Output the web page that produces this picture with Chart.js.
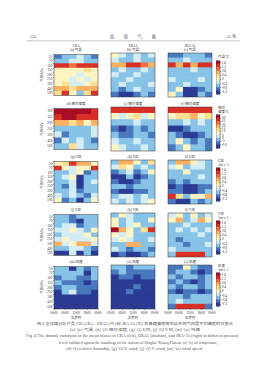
<!DOCTYPE html>
<html><head><meta charset="utf-8">
<script src="https://cdn.jsdelivr.net/npm/chart.js@4.4.1/dist/chart.umd.min.js"></script>
<style>
html,body{margin:0;padding:0;background:#fff;width:270px;height:380px;overflow:hidden;}
#page{position:relative;width:270px;height:380px;background:#fff;}
canvas{position:absolute;}
#txt{position:absolute;left:0;top:0;}
</style></head><body><div id="page"><svg id="txt" width="270" height="380" xmlns="http://www.w3.org/2000/svg"></svg></div>
<script>
// ---------- data ----------
const timeLabels = ["00:00","06:00","12:00","18:00","00:00"];
const tickHours = [0,6,12,18,24];
const timeBins = [0,4,8,12,16,20,24];
const windLevels = ["50","70","100","150","200","250","300","400","500"];
const rhLevels = ["100","150","200","250","300","400","500"];
const datasetNames = ["CRA","ERA5","JRA-55"];

const craTemp = [
[-0.92,-0.58,-0.55,-0.28,-0.62,-0.88],
[-0.55,-0.62,-0.30,-0.26,-0.58,-0.50],
[1.34,1.28,1.02,1.30,1.24,1.40],
[0.05,0.10,0.02,0.06,0.30,0.08],
[0.10,0.00,0.04,-0.20,0.06,0.12],
[0.04,0.12,-0.22,0.00,-0.25,0.06],
[0.08,0.36,-0.18,-0.20,0.04,0.32],
[0.70,0.66,0.40,0.62,0.72,0.60],
[0.40,1.32,0.05,-0.58,0.42,1.30]];
const era5Temp = [
[0.02,-0.30,-0.52,-0.25,-0.50,-0.30],
[-0.30,-0.55,-0.60,-0.28,-0.52,-0.56],
[0.72,0.60,1.30,1.36,1.00,0.76],
[-0.58,-0.30,-0.60,-0.55,-0.28,-0.62],
[-0.30,-0.56,-0.58,-0.30,-0.60,-0.55],
[-0.60,-0.58,-0.28,-0.62,-0.55,-0.58],
[-0.56,-0.26,-0.60,-0.58,-0.62,-0.30],
[-0.60,-0.90,-0.58,-0.30,-0.56,-0.60],
[-0.92,-1.25,-1.22,-0.88,-0.60,-0.90]];
const jraTemp = [
[-0.90,-0.86,-0.58,-0.60,-0.56,-0.92],
[-0.56,-0.60,-0.28,-0.58,-0.55,-0.60],
[1.32,0.70,1.28,0.68,1.30,1.34],
[-0.58,-0.60,-0.55,-0.30,-0.58,-0.62],
[-0.60,-0.56,-0.62,-0.58,-0.60,-0.55],
[-0.30,-0.58,-0.60,-0.56,-0.28,-0.60],
[-0.58,-0.62,-0.30,-0.60,-0.58,-0.56],
[-0.55,0.02,-1.24,-1.26,-0.90,-0.58],
[0.04,-0.60,-1.28,-1.22,-0.58,-0.88]];

const craRH = [
[32,33,31,32,30,28],
[27,31,32,28,26,27],
[17,16,12,16,8,17],
[-3,-2,-3,-2,-3,1],
[2,-7,-3,-2,-4,1],
[-7,2,-3,1,-3,-7],
[-3,-2,12,2,-3,-2]];
const era5RH = [
[27,28,27,26,28,27],
[7,3,6,11,2,8],
[-3,-2,-3,2,-2,-3],
[-7,-12,-8,-3,-6,-3],
[-3,-7,-8,-2,-3,-7],
[2,-3,-2,2,-3,-2],
[7,2,-3,-2,2,-3]];
const jraRH = [
[27,28,27,27,28,26],
[7,12,11,17,8,12],
[-3,-2,2,-3,2,-2],
[-12,-11,-7,-3,-2,-3],
[-3,-7,-12,-11,-7,-2],
[-2,7,-3,-7,-3,-8],
[-7,-3,7,-2,-3,-7]];

const craU = [
[0.00,0.36,1.30,0.70,0.68,0.02],
[1.30,0.04,-0.28,0.02,0.05,1.32],
[-0.58,-0.60,-0.30,0.02,-0.90,-0.56],
[-0.60,-0.28,0.04,-1.24,-0.58,-0.60],
[-0.56,-0.58,-0.30,-1.22,-0.60,-0.28],
[-0.60,-0.90,-0.26,-1.26,-0.56,-0.60],
[-0.58,-0.60,-0.30,-0.90,-0.58,-0.55],
[-0.28,-0.58,-0.30,-0.60,-0.88,-0.26],
[0.04,-0.90,-0.56,-1.24,-0.60,0.02]];
const era5U = [
[-0.58,0.70,0.72,0.02,-0.60,0.36],
[-0.28,0.38,0.04,-0.58,-0.30,-0.56],
[-0.90,-0.58,-0.30,-0.88,-0.60,0.04],
[-1.24,-1.22,-0.58,-1.26,-0.90,-0.60],
[-0.90,-1.24,-1.22,-0.88,-0.58,-0.56],
[-0.60,-0.56,-0.90,-0.58,-0.60,-0.58],
[-0.92,-1.24,-1.26,-0.90,-0.88,-0.60],
[-0.58,-0.30,-0.28,-0.60,-0.30,-0.56],
[-0.30,-0.58,-0.26,-0.60,-0.28,0.02]];
const jraU = [
[-0.58,0.70,0.72,0.02,-0.30,-0.60],
[-0.28,0.04,-0.58,-0.30,-0.28,-0.56],
[-0.60,-0.56,0.02,-0.58,-0.60,-0.58],
[-0.56,-0.60,-0.58,-0.62,-0.28,-0.60],
[-0.90,-0.58,-0.88,-0.60,-0.56,-0.58],
[-1.24,-0.90,-1.26,-1.22,-0.88,-0.92],
[-0.90,-0.88,-1.24,-1.26,-0.90,-0.58],
[1.30,0.38,-0.58,0.04,0.02,0.70],
[-0.90,-1.24,-1.22,-0.58,-0.88,-0.60]];

const craV = [
[-0.58,-0.60,-0.90,-0.56,-0.58,-0.60],
[-0.56,-0.58,-0.88,-1.24,-0.60,-0.58],
[-0.60,-0.30,-0.28,-0.90,-0.56,-0.58],
[-0.28,-0.30,0.02,-0.26,-0.58,0.04],
[-0.58,-0.28,-0.30,-0.26,0.02,-0.60],
[-0.30,0.04,-0.28,-0.30,-0.26,0.02],
[0.70,-0.28,0.04,0.68,0.72,-0.30],
[-0.58,-0.60,-0.30,-0.28,-0.56,-0.90],
[-1.24,-1.22,-0.30,-1.26,-0.58,-1.24]];
const era5V = [
[-0.58,0.02,-0.30,-0.56,-0.60,-0.58],
[0.04,-0.56,-0.28,-0.60,-0.58,0.02],
[0.02,-0.60,-0.30,0.04,-0.56,-0.58],
[1.62,0.70,0.02,-0.58,0.38,1.30],
[0.04,-0.28,0.02,-0.60,-0.56,-0.58],
[-0.30,0.04,-0.28,-0.58,-0.60,-0.26],
[-0.56,-0.58,0.70,0.68,-0.60,-0.58],
[-0.28,-0.60,-0.90,-0.58,-0.56,-0.88],
[-1.24,-0.90,-1.26,-1.22,-0.88,-0.60]];
const jraV = [
[-0.28,0.04,-0.58,0.02,-0.60,-0.30],
[0.02,0.70,-0.56,-0.28,0.68,0.04],
[-0.58,-0.60,-0.30,-0.56,-0.58,-0.60],
[-0.60,-0.28,-0.58,-0.30,-0.56,-0.26],
[-0.56,-0.58,-0.60,-0.58,-0.30,-0.56],
[-0.60,-0.90,-0.58,-0.56,-0.60,-0.58],
[-0.58,-0.56,-0.88,-0.60,-0.58,-0.28],
[-0.30,-0.58,-0.60,-0.56,-0.58,-0.60],
[-0.58,1.30,1.34,1.28,1.32,-0.56]];

const craWS = [
[-0.58,-0.60,-1.24,-0.56,-0.90,-0.58],
[-0.56,-0.58,-0.60,-0.58,-1.24,-0.60],
[-0.90,-0.58,-0.56,-0.88,-0.92,-0.58],
[-0.60,-0.90,-0.88,-0.92,-1.24,-0.90],
[-0.90,-0.58,-0.60,-0.88,-0.90,-0.92],
[-1.24,-0.56,-0.30,-0.90,-0.88,-1.26],
[-1.24,-1.26,-1.22,-1.25,-1.24,-1.26],
[-1.26,-1.24,-1.25,-1.22,-1.26,-1.24],
[-1.24,-1.22,-1.26,-1.24,-1.25,-1.22]];
const era5WS = [
[-0.58,-0.60,-0.90,-0.56,-0.58,-0.60],
[-0.90,-0.58,-0.88,-0.92,-0.90,-0.88],
[-1.24,-0.90,-0.88,-1.26,-0.90,-0.92],
[-1.24,-1.26,-1.22,-1.25,-1.24,-1.26],
[-1.26,-1.24,-1.25,-0.90,-1.26,-1.24],
[-1.24,-1.22,-0.88,-1.24,-1.25,-1.22],
[-1.25,-1.24,-1.26,-1.22,-1.24,-1.26],
[-1.26,-1.25,-1.24,-1.26,-1.22,-1.24],
[-1.24,-1.26,-1.22,-1.24,-1.25,-1.26]];
const jraWS = [
[-0.90,-0.88,0.02,-0.58,-0.90,-0.92],
[-0.88,-0.58,-0.60,-0.90,-1.24,-0.90],
[-0.58,-0.90,-0.56,-0.60,-0.88,-0.58],
[-0.90,-0.58,-0.88,-1.24,-0.92,-0.60],
[-0.56,-0.90,-0.58,-0.60,-0.88,-0.58],
[-0.88,-1.24,-0.90,-0.92,-1.26,-0.90],
[-0.58,-0.60,-0.88,-0.56,-0.58,-0.60],
[-0.60,-0.30,-0.58,-0.56,-0.60,-0.58],
[-0.90,1.30,1.32,1.28,1.34,-0.88]];

const tempTicks = [-1.2,-0.8,-0.4,0,0.4,0.8,1.2,1.6];
const rhTicks = [-10,-5,0,5,10,15,20,25,30];
const windTicks = [-1.2,-0.8,-0.4,0,0.4,0.8,1.2,1.6];

// ---------- styling ----------
const palette = ['#2b3b94','#4a78bf','#87c3e6','#d4edf5','#fdf6c4','#fde08f','#fcb063','#f26d42','#d83027','#a80e26'];
const SERIF = "'Liberation Serif', 'Noto Sans CJK SC', serif";
const CJK = "'Liberation Serif', 'Noto Sans CJK SC', sans-serif";
const colLeft = [54, 111, 168];
const rowTop = [53, 107, 160, 213, 265];
const W = 44, H = 44;

function colorOf(v, range){
  const [mn, mx] = range;
  let k = Math.floor((v - mn) / (mx - mn) * palette.length);
  k = Math.max(0, Math.min(palette.length - 1, k));
  return palette[k];
}

const framePlugin = {id:'frame', afterDatasetsDraw(chart){
  const {ctx, chartArea:a} = chart;
  ctx.save(); ctx.strokeStyle = '#333'; ctx.lineWidth = 0.5;
  ctx.strokeRect(a.left, a.top, a.right - a.left, a.bottom - a.top);
  ctx.restore();
}};

const page = document.getElementById('page');
function mkCanvas(left, top, w, h){
  const c = document.createElement('canvas');
  c.width = w; c.height = h;
  c.style.left = left + 'px'; c.style.top = top + 'px';
  c.style.width = w + 'px'; c.style.height = h + 'px';
  page.appendChild(c);
  return c.getContext('2d');
}

function heat(col, row, levels, grid, range){
  const L = colLeft[col], T = rowTop[row];
  const yW = col === 0 ? 9 : 0;
  const padL = col === 0 ? 0 : 6, padR = 6, padT = 1, padB = 1;
  const xH = row === 4 ? 7 : 0;
  const cw = padL + yW + W + padR, ch = padT + H + xH + padB;
  const ctx = mkCanvas(L - yW - padL, T - padT, cw, ch);
  const datasets = timeBins.slice(0, -1).map((t, j) => ({
    data: levels.map(() => [timeBins[j], timeBins[j + 1]]),
    backgroundColor: grid.map(r => colorOf(r[j], range)),
    borderWidth: 0, grouped: false, barPercentage: 1, categoryPercentage: 1
  }));
  new Chart(ctx, {
    type: 'bar',
    data: {labels: levels, datasets},
    plugins: [framePlugin],
    options: {
      indexAxis: 'y', responsive: false, animation: false, devicePixelRatio: 1,
      layout: {padding: {left: padL, right: padR, top: padT, bottom: padB}},
      plugins: {legend: {display: false}, tooltip: {enabled: false}},
      scales: {
        x: {type: 'linear', min: 0, max: 24, display: row === 4,
            afterBuildTicks: s => { s.ticks = tickHours.map(v => ({value: v})); },
            afterFit: s => { s.height = xH; },
            ticks: {callback: (v, i) => timeLabels[i], font: {size: 3.3, family: SERIF}, color: '#333',
                    padding: 0.5, maxRotation: 0, autoSkip: false},
            grid: {drawOnChartArea: false, tickLength: 1.2, color: '#333', lineWidth: 0.4},
            border: {display: false}},
        y: {type: 'category', display: col === 0, offset: true,
            afterFit: s => { s.width = yW; },
            ticks: {font: {size: 3.3, family: SERIF}, color: '#333', padding: 0.5, autoSkip: false},
            grid: {drawOnChartArea: false, tickLength: 1.2, color: '#333', lineWidth: 0.4, offset: true},
            border: {display: false}}
      }
    }
  });
}

function cbar(row, range, ticks){
  const T = rowTop[row];
  const top = T + 7, hgt = 35, bw = 4, axW = 13;
  const ctx = mkCanvas(216, top - 2, bw + axW + 1, hgt + 4);
  const [mn, mx] = range;
  const step = (mx - mn) / palette.length;
  const datasets = palette.map((c, k) => ({
    data: [[mn + k * step, mn + (k + 1) * step]], backgroundColor: c,
    borderWidth: 0, grouped: false, barPercentage: 1, categoryPercentage: 1
  }));
  new Chart(ctx, {
    type: 'bar',
    data: {labels: ['cb'], datasets},
    plugins: [framePlugin],
    options: {
      responsive: false, animation: false, devicePixelRatio: 1,
      layout: {padding: {left: 0, right: 1, top: 2, bottom: 2}},
      plugins: {legend: {display: false}, tooltip: {enabled: false}},
      scales: {
        x: {display: false},
        y: {type: 'linear', position: 'right', min: mn, max: mx,
            afterBuildTicks: s => { s.ticks = ticks.map(v => ({value: v})); },
            afterFit: s => { s.width = axW; },
            ticks: {callback: v => String(v), font: {size: 3.3, family: SERIF}, color: '#333', padding: 0.8, autoSkip: false},
            grid: {drawOnChartArea: false, tickLength: 1.2, color: '#333', lineWidth: 0.4},
            border: {display: false}}
      }
    }
  });
}

const tempRange = [-1.4, 1.8], rhRange = [-15, 35], windRange = [-1.4, 1.8];
const rows = [
  {levels: windLevels, grids: [craTemp, era5Temp, jraTemp], range: tempRange, ticks: tempTicks},
  {levels: rhLevels, grids: [craRH, era5RH, jraRH], range: rhRange, ticks: rhTicks},
  {levels: windLevels, grids: [craU, era5U, jraU], range: windRange, ticks: windTicks},
  {levels: windLevels, grids: [craV, era5V, jraV], range: windRange, ticks: windTicks},
  {levels: windLevels, grids: [craWS, era5WS, jraWS], range: windRange, ticks: windTicks}
];
rows.forEach((r, ri) => {
  r.grids.forEach((g, ci) => heat(ci, ri, r.levels, g, r.range));
  cbar(ri, r.range, r.ticks);
});

// ---------- text ----------
const svg = document.getElementById('txt');
const NS = 'http://www.w3.org/2000/svg';
function txt(x, y, s, o = {}){
  const t = document.createElementNS(NS, 'text');
  t.setAttribute('x', x); t.setAttribute('y', y);
  t.setAttribute('font-size', o.size || 3.6);
  t.setAttribute('font-family', o.font || CJK);
  t.setAttribute('fill', o.color || '#333');
  t.setAttribute('text-anchor', o.anchor || 'start');
  if (o.len) { t.setAttribute('textLength', o.len); t.setAttribute('lengthAdjust', 'spacingAndGlyphs'); }
  if (o.rot) t.setAttribute('transform', `rotate(${o.rot} ${x} ${y})`);
  t.textContent = s;
  svg.appendChild(t);
}
const ln = document.createElementNS(NS, 'line');
ln.setAttribute('x1', 27); ln.setAttribute('x2', 240); ln.setAttribute('y1', 40.8); ln.setAttribute('y2', 40.8);
ln.setAttribute('stroke', '#888'); ln.setAttribute('stroke-width', 0.5);
svg.appendChild(ln);

txt(30, 37.5, '334', {size: 4, font: SERIF, color: '#666'});
['高','原','气','象'].forEach((c, i) => txt(112 + i * 14, 38, c, {size: 4.4, anchor: 'middle', color: '#666'}));
txt(227, 37.5, '43 卷', {size: 4, color: '#666'});

const subTitles = [
  ['(a) 气温','(b) 气温','(c) 气温'],
  ['(d) 相对湿度','(e) 相对湿度','(f) 相对湿度'],
  ['(g) U风','(h) U风','(i) U风'],
  ['(j) V风','(k) V风','(l) V风'],
  ['(m) 风速','(n) 风速','(o) 风速']
];
colLeft.forEach((L, ci) => txt(L + W / 2, 47.3, datasetNames[ci], {size: 3.5, font: SERIF, anchor: 'middle'}));
rowTop.forEach((T, ri) => {
  subTitles[ri].forEach((s, ci) => txt(colLeft[ci] + W / 2, ri === 0 ? 51.4 : T - 2.3, s, {size: 3.5, anchor: 'middle'}));
  txt(42.8, T + H / 2, '气压/hPa', {size: 3.5, anchor: 'middle', rot: -90});
});
const cbTitles = [['气温/℃'], ['相对', '湿度/%'], ['U风', '/(m·s⁻¹)'], ['V风', '/(m·s⁻¹)'], ['风速', '/(m·s⁻¹)']];
cbTitles.forEach((lines, ri) => {
  const T = rowTop[ri];
  if (lines.length === 1) txt(218, T + 5, lines[0], {size: 3.4});
  else lines.forEach((s, k) => txt(218, T + 1.5 + k * 4, s, {size: 3.4}));
});
colLeft.forEach(L => txt(L + W / 2, 318.8, '北京时', {size: 3.5, anchor: 'middle'}));

txt(37, 325, '图 6  全球再分析产品 CRA (左)、ERA5 (中) 和 JRA-55 (右) 在青藏高原探空站不同气压层平均偏差的日变化', {size: 3.9, len: 196, color: '#555'});
txt(135, 331.3, '(a)~(c) 气温, (d)~(f) 相对湿度, (g)~(i) U风, (j)~(l) V风, (m)~(o) 风速', {size: 3.9, anchor: 'middle', len: 130, color: '#555'});
txt(26, 337, 'Fig. 6    The diurnal variations of the mean biases of CRA (left), ERA5 (median), and JRA-55 (right) at different pressure', {size: 4.2, font: SERIF, len: 213, color: '#555'});
txt(59, 343.5, 'levels validated against the soundings for the stations of Qinghai-Xizang Plateau. (a)~(c) air temperature,', {size: 4.2, font: SERIF, len: 159, color: '#555'});
txt(66, 349.6, '(d)~(f) relative humidity, (g)~(i) U wind, (j)~(l) V wind, (m)~(o) wind speed', {size: 4.2, font: SERIF, len: 136, color: '#555'});
</script>
</body></html>
